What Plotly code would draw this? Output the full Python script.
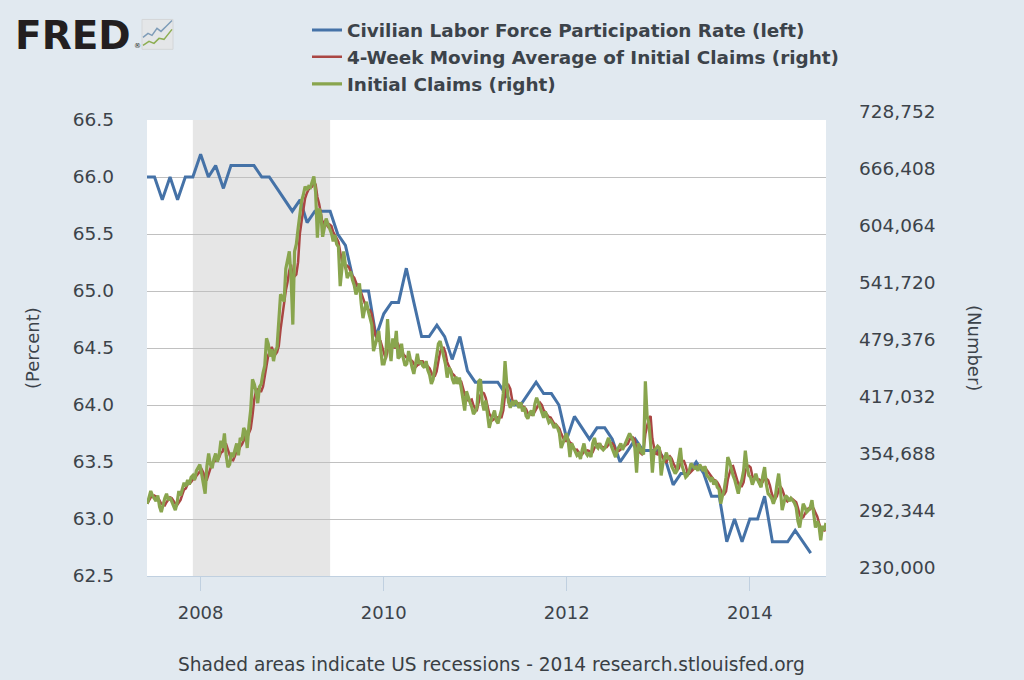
import plotly.graph_objects as go
import pandas as pd

# ---------------- data ----------------
lfpr_start = "2007-06-01"   # monthly, Civilian Labor Force Participation Rate (%)
lfpr = [
    66.0, 66.0, 65.8, 66.0, 65.8, 66.0, 66.0,                                  # 2007 Jun-Dec
    66.2, 66.0, 66.1, 65.9, 66.1, 66.1, 66.1, 66.1, 66.0, 66.0, 65.9, 65.8,      # 2008
    65.7, 65.8, 65.6, 65.7, 65.7, 65.7, 65.5, 65.4, 65.1, 65.0, 65.0, 64.6,      # 2009
    64.8, 64.9, 64.9, 65.2, 64.9, 64.6, 64.6, 64.7, 64.6, 64.4, 64.6, 64.3,      # 2010
    64.2, 64.2, 64.2, 64.2, 64.1, 64.0, 64.0, 64.1, 64.2, 64.1, 64.1, 64.0,      # 2011
    63.7, 63.9, 63.8, 63.7, 63.8, 63.8, 63.7, 63.5, 63.6, 63.7, 63.6, 63.6,      # 2012
    63.6, 63.5, 63.3, 63.4, 63.4, 63.5, 63.4, 63.2, 63.2, 62.8, 63.0, 62.8,      # 2013
    63.0, 63.0, 63.2, 62.8, 62.8, 62.8, 62.9, 62.8, 62.7,                        # 2014 Jan-Sep
]

claims_start = "2007-06-02"  # weekly (week ending Saturday), thousands
claims_2007 = [309, 316, 323, 318, 315, 312, 318, 306, 300, 308, 315, 320, 313,
               316, 311, 307, 302, 310, 323, 318, 325, 332, 328, 335, 330, 338,
               340, 335, 345, 348, 352]
claims_2008 = [342, 330, 320, 350, 364, 352, 348, 358, 364, 355, 362, 378, 370,
               386, 362, 349, 352, 365, 360, 368, 375, 362, 381, 378, 392, 388,
               370, 395, 412, 445, 440, 432, 419, 437, 440, 452, 460, 490, 484,
               470, 478, 465, 476, 480, 505, 538, 535, 530, 566, 575, 585, 556]
claims_2009 = [505, 585, 593, 610, 629, 640, 647, 656, 652, 656, 655, 661, 667,
               650, 600, 632, 625, 601, 612, 621, 615, 610, 605, 596, 603, 593,
               590, 547, 566, 585, 570, 556, 560, 563, 554, 548, 538, 545, 550,
               528, 512, 522, 530, 520, 512, 505, 476, 485, 490, 498, 475, 462]
claims_2010 = [462, 470, 511, 480, 465, 490, 480, 498, 468, 470, 484, 468, 460,
               462, 476, 465, 458, 451, 460, 473, 462, 465, 460, 458, 465, 455,
               450, 440, 445, 460, 470, 484, 487, 478, 470, 462, 447, 458, 455,
               445, 440, 448, 440, 447, 436, 420, 411, 432, 425, 420, 415, 407]
claims_2011 = [410, 415, 443, 445, 420, 411, 422, 405, 392, 400, 405, 411, 400,
               397, 405, 412, 430, 465, 440, 420, 414, 420, 418, 422, 418, 414,
               420, 410, 415, 405, 402, 408, 411, 405, 418, 425, 420, 415, 408,
               403, 410, 405, 398, 400, 397, 392, 395, 392, 386, 370, 375, 380, 386]
claims_2012 = [378, 360, 375, 370, 366, 362, 364, 358, 368, 375, 365, 362, 365,
               360, 375, 381, 372, 370, 375, 370, 368, 370, 376, 381, 375, 370,
               367, 360, 368, 372, 375, 368, 372, 378, 380, 386, 382, 378, 370,
               343, 375, 370, 365, 363, 443, 405, 397, 375, 343, 367, 370, 372]
claims_2013 = [370, 340, 353, 360, 365, 358, 360, 350, 345, 342, 345, 358, 370,
               350, 345, 338, 340, 345, 353, 350, 348, 349, 345, 352, 349, 345,
               350, 340, 338, 335, 338, 330, 335, 327, 325, 309, 318, 325, 338,
               360, 355, 346, 340, 335, 328, 320, 330, 335, 345, 367, 350, 340]
claims_2014 = [338, 330, 335, 342, 335, 330, 327, 340, 349, 330, 320, 318, 315,
               309, 315, 330, 342, 325, 302, 310, 318, 316, 312, 315, 313, 310,
               305, 290, 283, 295, 309, 305, 300, 302, 305, 313, 295, 283, 290,
               285, 269, 285, 280, 288]

recession_start = "2007-12-01"
recession_end = "2009-06-01"
x_range = ["2007-06-01", "2014-11-01"]
x_tick_years = [2008, 2010, 2012, 2014]
left_ticks = [62.5, 63.0, 63.5, 64.0, 64.5, 65.0, 65.5, 66.0, 66.5]
right_ticks = [230000, 292344, 354688, 417032, 479376, 541720, 604064, 666408, 728752]

names = ["Civilian Labor Force Participation Rate (left)",
         "4-Week Moving Average of Initial Claims (right)",
         "Initial Claims (right)"]
colors = ["#4572A7", "#AA4643", "#89A54E"]

# ---------------- derived series ----------------
lfpr_dates = pd.date_range(lfpr_start, periods=len(lfpr), freq="MS")
claims_k = (claims_2007 + claims_2008 + claims_2009 + claims_2010 +
            claims_2011 + claims_2012 + claims_2013 + claims_2014)
claims = pd.Series([v * 1000 for v in claims_k])
claims_dates = pd.date_range(claims_start, periods=len(claims), freq="W-SAT")
claims_ma = claims.rolling(4, min_periods=1).mean()

# ---------------- layout helpers ----------------
W, H = 1024, 680
L, R, T, B = 147, 198, 118, 104
PW, PH = W - L - R, H - T - B
def px(x):
    return (x - L) / PW
def py(y):
    return (H - B - y) / PH

FONT = "DejaVu Sans"
TXT = "#3C434A"

fig = go.Figure()
fig.add_trace(go.Scatter(x=lfpr_dates, y=lfpr, name=names[0], mode="lines",
                         line=dict(color=colors[0], width=3), legendgroup="a"))
fig.add_trace(go.Scatter(x=claims_dates, y=claims_ma, name=names[1], mode="lines",
                         yaxis="y2", line=dict(color=colors[1], width=2.5), legendgroup="b"))
fig.add_trace(go.Scatter(x=claims_dates, y=claims, name=names[2], mode="lines",
                         yaxis="y2", line=dict(color=colors[2], width=3.2), legendgroup="c"))

fig.add_shape(type="rect", xref="x", yref="paper", x0=recession_start, x1=recession_end,
              y0=0, y1=1, fillcolor="#E6E6E6", line=dict(width=0), layer="below")

annotations = []
for v in right_ticks:
    annotations.append(dict(x=1, xref="paper", xanchor="left", xshift=31,
                            y=v, yref="y2", yanchor="middle", yshift=9, text=f"{v:,}",
                            showarrow=False,
                            font=dict(family=FONT, size=18.5, color=TXT)))
annotations.append(dict(x=px(32), y=py(347), xref="paper", yref="paper", text="(Percent)",
                        xanchor="center", yanchor="middle", textangle=-90, showarrow=False,
                        font=dict(family=FONT, size=18, color=TXT)))
annotations.append(dict(x=px(975), y=py(347), xref="paper", yref="paper", text="(Number)",
                        xanchor="center", yanchor="middle", textangle=90, showarrow=False,
                        font=dict(family=FONT, size=18, color=TXT)))
annotations.append(dict(x=px(491), y=py(665), xref="paper", yref="paper",
                        xanchor="center", yanchor="middle",
                        text="Shaded areas indicate US recessions - 2014 research.stlouisfed.org",
                        showarrow=False, font=dict(family=FONT, size=18.6, color="#3A3F44")))
annotations.append(dict(x=px(13), y=py(33), xref="paper", yref="paper", xanchor="left",
                        yanchor="middle", text="<b>FRED</b>", showarrow=False,
                        font=dict(family=FONT, size=39, color="#231F20")))
annotations.append(dict(x=px(132), y=py(44), xref="paper", yref="paper", xanchor="left",
                        yanchor="middle", text="®", showarrow=False,
                        font=dict(family=FONT, size=7, color="#231F20")))
fig.add_shape(type="rect", xref="paper", yref="paper", x0=px(142), x1=px(173),
              y0=py(47), y1=py(17), fillcolor="#E4E6E8", line=dict(color="#D4D6D8", width=1))
def path(pts):
    return "M" + " L".join(f"{px(a)},{py(b)}" for a, b in pts)
fig.add_shape(type="path", xref="paper", yref="paper",
              path=path([(143, 35), (148, 31), (152, 33), (157, 26), (161, 29), (166, 24), (172, 18)]),
              line=dict(color="#7E9CB8", width=1.5))
fig.add_shape(type="path", xref="paper", yref="paper",
              path=path([(143, 43), (149, 39), (154, 41), (159, 36), (164, 37), (172, 27)]),
              line=dict(color="#8DAE52", width=1.5))

fig.update_layout(
    width=W, height=H,
    margin=dict(l=L, r=R, t=T, b=B, pad=0),
    paper_bgcolor="#E1E9F0", plot_bgcolor="#FFFFFF",
    font=dict(family=FONT, size=17, color=TXT),
    showlegend=True,
    legend=dict(x=px(307), y=py(9), xanchor="left", yanchor="top",
                bgcolor="rgba(0,0,0,0)", itemwidth=30, traceorder="grouped",
                tracegroupgap=0,
                font=dict(family=FONT, size=18.4, color="#3C434A", weight="bold")),
    xaxis=dict(type="date", range=x_range,
               tickvals=[f"{y}-01-01" for y in x_tick_years],
               ticktext=[str(y) for y in x_tick_years],
               ticks="outside", ticklen=14, tickcolor="#C0D0E0", tickwidth=1,
               showline=True, linecolor="#C0D0E0", linewidth=1,
               showgrid=False, zeroline=False, ticklabelstandoff=6,
               tickfont=dict(family=FONT, size=18, color=TXT)),
    yaxis=dict(range=[left_ticks[0], left_ticks[-1]], tickvals=left_ticks,
               ticktext=[f"{v:.1f}" for v in left_ticks],
               showgrid=True, gridcolor="#C0C0C0", gridwidth=1, zeroline=False,
               ticks="", ticklabelstandoff=32, showline=False,
               tickfont=dict(family=FONT, size=18.5, color=TXT)),
    yaxis2=dict(overlaying="y", side="right", range=[right_ticks[0], right_ticks[-1]],
                showgrid=False, zeroline=False, showticklabels=False, ticks=""),
    annotations=annotations,
)

fig.write_html("out.html", config={"displayModeBar": False},
               post_script="document.body.style.margin='0';")
